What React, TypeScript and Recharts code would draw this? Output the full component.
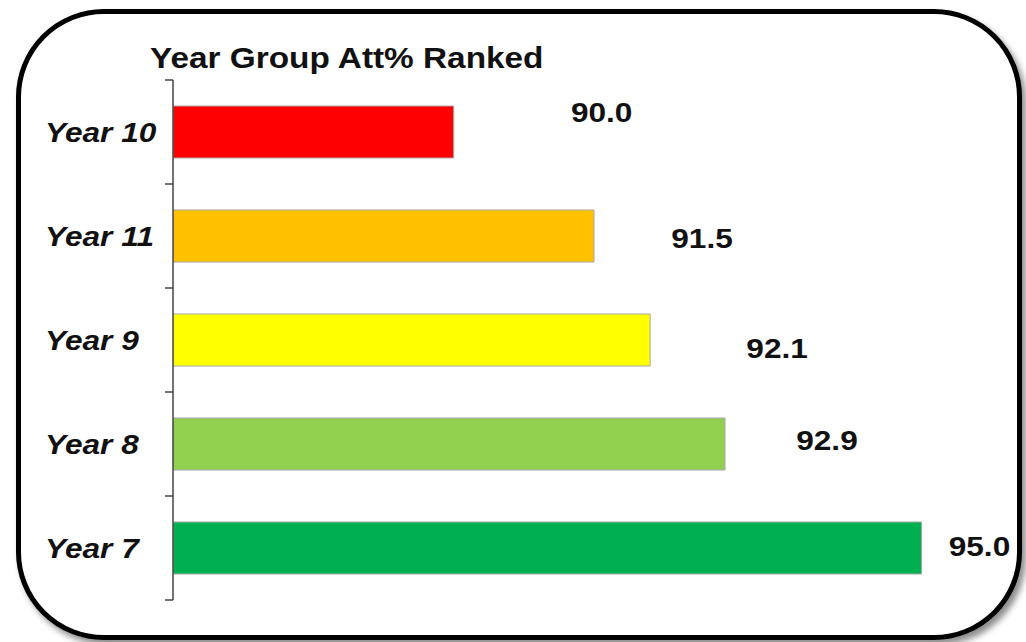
import { Bar, BarChart, Cell, LabelList, XAxis, YAxis } from 'recharts';

// ranked top to bottom as in the slide
const categories = ['Year 10', 'Year 11', 'Year 9', 'Year 8', 'Year 7'];
const attendance = [90.0, 91.5, 92.1, 92.9, 95.0];
const barColors = ['#FF0000', '#FFC000', '#FFFF00', '#92D050', '#00B050'];
// hand-placed label offsets from the bar end (dx) and bar middle (dy)
const labelNudge: [number, number][] = [
  [148, -20],
  [108, 2],
  [127, 8],
  [102, -4],
  [58, -2],
];

const W = 1026;
const H = 642;
const MARGIN = { top: 80, right: 11, bottom: 42, left: 0 };
const AXIS_W = 173;
const TICK_SIZE = 8;
const TICK_MARGIN = 6;
const LABEL_LEFT = 45; // category names are left aligned in the slide
const STRETCH = 1.13; // source slide was stretched horizontally
const INK = '#111';

const data = categories.map((name, i) => ({ name, value: attendance[i] }));
const bandHalf = (H - MARGIN.top - MARGIN.bottom) / categories.length / 2;

function CategoryTick(props: any) {
  const { x, y, payload, index } = props;
  const axisX = x + TICK_SIZE + TICK_MARGIN;
  const last = index === categories.length - 1;
  return (
    <g>
      <line x1={axisX - TICK_SIZE} x2={axisX} y1={y - bandHalf} y2={y - bandHalf} stroke="#444" strokeWidth={1.5} />
      {last && (
        <line x1={axisX - TICK_SIZE} x2={axisX} y1={y + bandHalf} y2={y + bandHalf} stroke="#444" strokeWidth={1.5} />
      )}
      <text
        transform={`translate(${LABEL_LEFT},${y + 10}) scale(${STRETCH},1)`}
        textAnchor="start"
        fontFamily="'Liberation Sans', Arial, sans-serif"
        fontWeight="bold"
        fontStyle="italic"
        fontSize={28}
        fill={INK}
      >
        {payload.value}
      </text>
    </g>
  );
}

function ValueLabel(props: any) {
  const { x, y, width, height, value } = props;
  const idx = props.index ?? attendance.indexOf(value);
  const [dx, dy] = labelNudge[idx] ?? [60, 0];
  const cx = Number(x) + Number(width) + dx;
  const cy = Number(y) + Number(height) / 2 + dy + 10;
  return (
    <text
      transform={`translate(${cx},${cy}) scale(${STRETCH},1)`}
      textAnchor="middle"
      fontFamily="'Liberation Sans', Arial, sans-serif"
      fontWeight="bold"
      fontSize={28}
      fill={INK}
    >
      {Number(value).toFixed(1)}
    </text>
  );
}

export default function App() {
  return (
    <div style={{ position: 'absolute', left: 0, top: 0, width: W, height: H, background: '#fff', overflow: 'hidden' }}>
      <div
        style={{
          position: 'absolute',
          left: 16,
          top: 9,
          width: 1006,
          height: 631,
          boxSizing: 'border-box',
          border: '5px solid #000',
          borderRadius: 88,
          boxShadow: '4px 5px 6px rgba(0,0,0,0.45)',
          background: '#fff',
        }}
      />
      <svg width={W} height={H} style={{ position: 'absolute', left: 0, top: 0 }}>
        <text
          transform={`translate(150,68) scale(1.15,1)`}
          fontFamily="'Liberation Sans', Arial, sans-serif"
          fontWeight="bold"
          fontSize={29}
          fill={INK}
        >
          Year Group Att% Ranked
        </text>
      </svg>
      <div style={{ position: 'absolute', left: 0, top: 0 }}>
        <BarChart width={W} height={H} data={data} layout="vertical" margin={MARGIN} barCategoryGap="25%">
          <XAxis type="number" domain={[87, 96]} allowDataOverflow hide />
          <YAxis
            type="category"
            dataKey="name"
            width={AXIS_W}
            axisLine={{ stroke: '#444', strokeWidth: 1.5 }}
            tickLine={false}
            tickSize={TICK_SIZE}
            tickMargin={TICK_MARGIN}
            tick={<CategoryTick />}
            interval={0}
          />
          <Bar dataKey="value" stroke="#a6a6a6" strokeWidth={1} isAnimationActive={false}>
            {data.map((d, i) => (
              <Cell key={d.name} fill={barColors[i]} />
            ))}
            <LabelList dataKey="value" content={<ValueLabel />} />
          </Bar>
        </BarChart>
      </div>
    </div>
  );
}
